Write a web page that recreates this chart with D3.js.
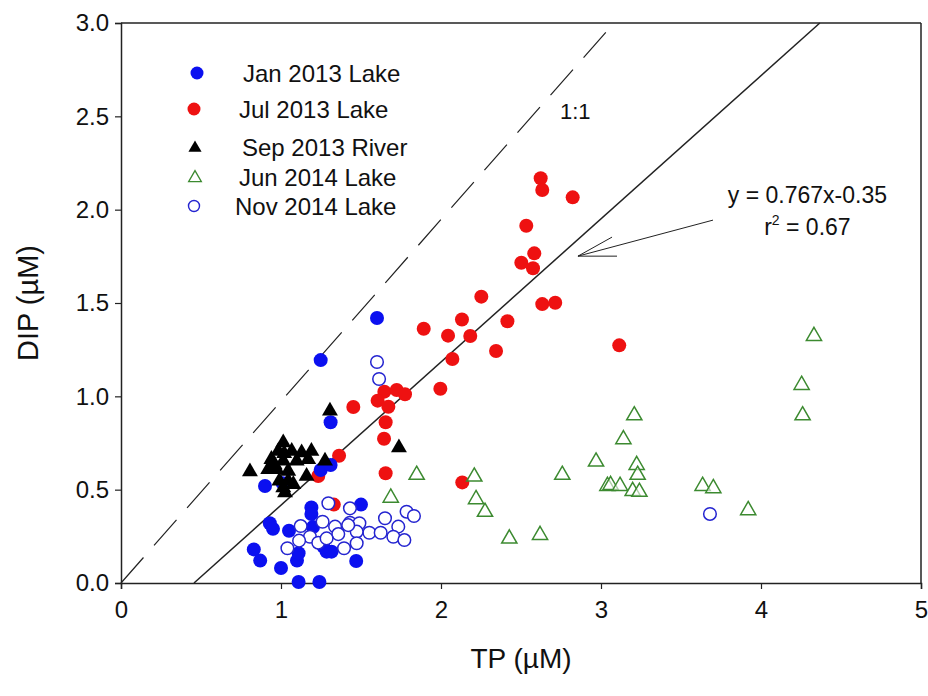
<!DOCTYPE html>
<html><head><meta charset="utf-8">
<script src="https://cdn.jsdelivr.net/npm/d3@7"></script>
<style>
html,body{margin:0;padding:0;background:#fff;}
text{font-family:Arial,"Liberation Sans",sans-serif;fill:#111;}
</style></head>
<body><svg id="chart" width="928" height="696"></svg>
<script>
// ---- data (TP µM, DIP µM) ----
const seriesNames = ["Jan 2013 Lake","Jul 2013 Lake","Sep 2013 River","Jun 2014 Lake","Nov 2014 Lake"];
const xTicks = [0,1,2,3,4,5];
const yTicks = [0.0,0.5,1.0,1.5,2.0,2.5,3.0];

const jul2013 = [
 [2.623,2.168],[2.633,2.105],[2.823,2.066],[2.533,1.914],[2.583,1.766],[2.502,1.716],[2.575,1.686],
 [2.252,1.534],[2.633,1.494],[2.714,1.501],[2.131,1.412],[2.415,1.402],[1.892,1.362],[2.044,1.325],
 [2.183,1.323],[3.114,1.273],[2.344,1.243],[2.071,1.200],[1.996,1.041],[1.646,1.025],[1.723,1.034],
 [1.775,1.011],[1.604,0.977],[1.671,0.944],[1.452,0.943],[1.654,0.861],[1.644,0.773],[1.363,0.682],
 [1.654,0.588],[2.133,0.539],[1.233,0.573],[1.330,0.420]
];
const jan2013 = [
 [1.600,1.420],[1.248,1.194],[1.310,0.861],[0.900,0.520],[1.010,0.535],[1.248,0.605],[1.310,0.632],
 [1.190,0.405],[1.190,0.370],[0.930,0.320],[0.950,0.290],[1.050,0.280],[1.200,0.300],[0.830,0.180],
 [0.870,0.120],[1.000,0.080],[1.100,0.120],[1.110,0.160],[1.285,0.168],[1.316,0.168],[1.470,0.118],
 [1.500,0.420],[1.110,0.005],[1.240,0.005],[1.265,0.195]
];
const sep2013 = [
 [1.306,0.927],[0.806,0.602],[1.014,0.757],[0.983,0.712],[1.067,0.712],[1.129,0.703],[1.190,0.712],
 [0.940,0.668],[1.014,0.659],[1.098,0.659],[1.170,0.668],[1.275,0.659],[0.920,0.614],[0.973,0.614],
 [1.045,0.605],[1.160,0.578],[0.990,0.552],[1.045,0.552],[1.014,0.516],[1.077,0.534],[1.025,0.489],
 [1.737,0.730],[1.020,0.700],[0.960,0.640]
];
const jun2014 = [
 [4.331,1.328],[4.254,1.066],[4.260,0.903],[3.208,0.903],[3.140,0.775],[2.969,0.655],[3.223,0.637],
 [3.229,0.584],[2.758,0.584],[1.848,0.584],[2.208,0.575],[1.686,0.462],[2.219,0.454],[2.275,0.386],
 [2.427,0.243],[2.619,0.262],[3.040,0.525],[3.060,0.530],[3.119,0.525],[3.198,0.498],[3.240,0.493],
 [3.635,0.525],[3.702,0.513],[3.920,0.395]
];
const nov2014 = [
 [1.600,1.184],[1.613,1.093],[3.681,0.370],[1.296,0.427],[1.431,0.400],[1.260,0.328],[1.338,0.302],
 [1.431,0.323],[1.490,0.320],[1.650,0.347],[1.785,0.382],[1.831,0.359],[1.733,0.302],[1.552,0.269],
 [1.623,0.269],[1.702,0.248],[1.771,0.230],[1.358,0.262],[1.473,0.275],[1.394,0.186],[1.473,0.213],
 [1.123,0.305],[1.181,0.248],[1.113,0.227],[1.040,0.186],[1.233,0.216],[1.285,0.239],[1.420,0.310]
];
const fitSlope = 0.767, fitIntercept = -0.35;
const oneToOne = [[0,0],[3.03,2.95]];
const fitText = ["y = 0.767x-0.35", "0.67"];
// annotation arrow in data units: tail, head, barbs
const arrowTail=[3.70,1.944], arrowHead=[2.856,1.751], arrowBarbs=[[3.069,1.853],[3.10,1.751]];

// ---- layout ----
const svg = d3.select("#chart");
const x = d3.scaleLinear().domain([0,5]).range([121,921]);
const y = d3.scaleLinear().domain([0,3]).range([583,23]);
const ink = "#222";

// frame: top and right
svg.append("line").attr("x1",x(0)).attr("x2",x(5)).attr("y1",y(3)).attr("y2",y(3)).attr("stroke",ink).attr("stroke-width",1.5);
svg.append("line").attr("x1",x(5)).attr("x2",x(5)).attr("y1",y(0)).attr("y2",y(3)).attr("stroke",ink).attr("stroke-width",1.5);

const xAxis = svg.append("g").attr("transform",`translate(0,${y(0)})`)
  .call(d3.axisBottom(x).tickValues(xTicks).tickFormat(d3.format("d")).tickSizeOuter(0).tickSize(6).tickPadding(12));
const yAxis = svg.append("g").attr("transform",`translate(${x(0)},0)`)
  .call(d3.axisLeft(y).tickValues(yTicks).tickFormat(d3.format(".1f")).tickSizeOuter(0).tickSize(6).tickPadding(6));
[xAxis,yAxis].forEach(g=>{
  g.selectAll("path.domain").attr("stroke",ink).attr("stroke-width",1.5);
  g.selectAll(".tick line").attr("stroke",ink).attr("stroke-width",1.2);
  g.selectAll(".tick text").attr("font-size",24).attr("font-family","Arial, 'Liberation Sans', sans-serif").attr("fill","#111");
});

// lines
svg.append("line").attr("x1",x(oneToOne[0][0])).attr("y1",y(oneToOne[0][1]))
  .attr("x2",x(oneToOne[1][0])).attr("y2",y(oneToOne[1][1]))
  .attr("stroke",ink).attr("stroke-width",1.2).attr("stroke-dasharray","34,16");
const fx0 = -fitIntercept/fitSlope, fx1 = (3-fitIntercept)/fitSlope;
svg.append("line").attr("x1",x(fx0)).attr("y1",y(0)).attr("x2",x(fx1)).attr("y2",y(3))
  .attr("stroke",ink).attr("stroke-width",1.5);

// points
const plot = svg.append("g");
const tri = d3.symbol().type(d3.symbolTriangle);
plot.selectAll(".jul").data(jul2013).join("circle").attr("cx",d=>x(d[0])).attr("cy",d=>y(d[1])).attr("r",7).attr("fill","#ee1111");
plot.selectAll(".jan").data(jan2013).join("circle").attr("cx",d=>x(d[0])).attr("cy",d=>y(d[1])).attr("r",7).attr("fill","#0b10f0");
plot.selectAll(".sep").data(sep2013).join("path").attr("d",tri.size(110)()).attr("transform",d=>`translate(${x(d[0])},${y(d[1])+1})`).attr("fill","#000");
plot.selectAll(".jun").data(jun2014).join("path").attr("d",tri.size(100)()).attr("transform",d=>`translate(${x(d[0])},${y(d[1])+1})`).attr("fill","#fff").attr("fill-opacity",0.6).attr("stroke","#3c8a30").attr("stroke-width",1.5);
plot.selectAll(".nov").data(nov2014).join("circle").attr("cx",d=>x(d[0])).attr("cy",d=>y(d[1])).attr("r",6.3).attr("fill","#fff").attr("stroke","#2424d0").attr("stroke-width",1.5);

// legend
const legendY = [73,109,147,177,206];
const legendTx = [243,239,242,239,235];
const lg = svg.append("g");
seriesNames.forEach((name,i)=>{
  const cy = legendY[i], cx = 197;
  if(i===0) lg.append("circle").attr("cx",cx).attr("cy",cy).attr("r",6.5).attr("fill","#0b10f0");
  if(i===1) lg.append("circle").attr("cx",cx-3).attr("cy",cy).attr("r",6.5).attr("fill","#ee1111");
  if(i===2) lg.append("path").attr("d",tri.size(75)()).attr("transform",`translate(${cx-2},${cy+1})`).attr("fill","#000");
  if(i===3) lg.append("path").attr("d",tri.size(70)()).attr("transform",`translate(${cx-2},${cy+1})`).attr("fill","none").attr("stroke","#3c8a30").attr("stroke-width",1.3);
  if(i===4) lg.append("circle").attr("cx",cx-3).attr("cy",cy).attr("r",5.5).attr("fill","none").attr("stroke","#2424d0").attr("stroke-width",1.4);
  lg.append("text").attr("x",legendTx[i]).attr("y",cy).attr("dy","0.36em").attr("font-size",24).text(name);
});

// labels
svg.append("text").attr("x",560).attr("y",119).attr("font-size",22).text("1:1");
svg.append("text").attr("x",x(4.29)).attr("y",y(2.035)).attr("text-anchor","middle").attr("font-size",23).text(fitText[0]);
const r2 = svg.append("text").attr("x",x(4.29)).attr("y",y(1.864)).attr("text-anchor","middle").attr("font-size",23);
r2.append("tspan").text("r");
r2.append("tspan").attr("font-size",14).attr("dy",-10).text("2");
r2.append("tspan").attr("dy",10).text(" = "+fitText[1]);

// arrow
const ag = svg.append("g").attr("stroke",ink).attr("stroke-width",1).attr("fill","none");
ag.append("line").attr("x1",x(arrowTail[0])).attr("y1",y(arrowTail[1])).attr("x2",x(arrowHead[0])).attr("y2",y(arrowHead[1]));
arrowBarbs.forEach(b=>ag.append("line").attr("x1",x(arrowHead[0])).attr("y1",y(arrowHead[1])).attr("x2",x(b[0])).attr("y2",y(b[1])));

// axis titles
svg.append("text").attr("x",x(2.5)).attr("y",668).attr("text-anchor","middle").attr("font-size",28).text("TP (\u00B5M)");
svg.append("text").attr("transform",`translate(38,${303}) rotate(-90)`).attr("text-anchor","middle").attr("font-size",29).text("DIP (\u00B5M)");
</script></body></html>
